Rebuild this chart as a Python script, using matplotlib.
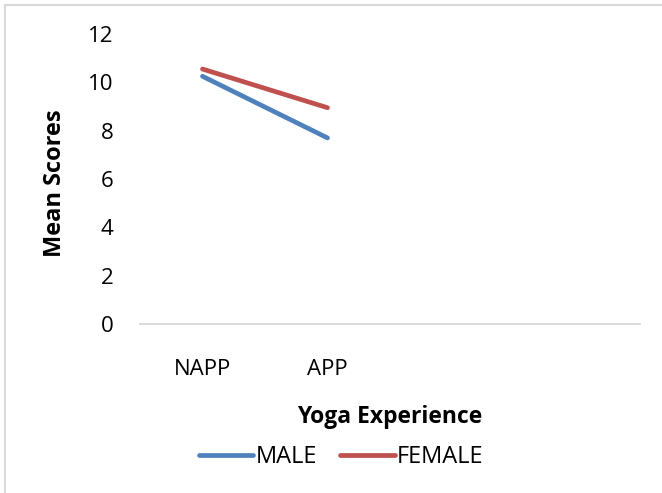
import matplotlib
matplotlib.use("Agg")
import matplotlib.pyplot as plt
from matplotlib.patches import Rectangle

plt.rcParams['font.family'] = ['Open Sans', 'DejaVu Sans']

categories = ["NAPP", "APP", "", ""]
male = [10.25, 7.7]
female = [10.55, 8.95]
yticks = [0, 2, 4, 6, 8, 10, 12]

W, H = 662, 493
fig = plt.figure(figsize=(W / 100, H / 100), dpi=100)
ax = fig.add_axes([140 / W, 1 - 324 / H, 500 / W, 290 / H])

# outer chart frame (runs off the right and bottom edges)
fig.patches.append(Rectangle((5 / W, -0.1), 1.2, 1 - 5 / H + 0.1,
                             transform=fig.transFigure, fill=False,
                             edgecolor="#d9d9d9", linewidth=1.5))

x = list(range(len(categories)))
ax.plot(x[:len(male)], male, color="#4F81BD", linewidth=3.4,
        solid_capstyle="round", label="MALE")
ax.plot(x[:len(female)], female, color="#C0504D", linewidth=3.4,
        solid_capstyle="round", label="FEMALE")

ax.set_xlim(-0.5, len(categories) - 0.5)
ax.set_ylim(0, 12)
ax.set_yticks(yticks)
ax.set_xticks(x)
ax.set_xticklabels(categories)
ax.tick_params(axis="both", length=0, labelsize=16, colors="black")
ax.tick_params(axis="y", pad=19)
ax.tick_params(axis="x", pad=25)

for s in ["top", "right", "left"]:
    ax.spines[s].set_visible(False)
ax.spines["bottom"].set_color("#d9d9d9")
ax.spines["bottom"].set_linewidth(1.3)

fig.text(55 / W, 1 - 183 / H, "Mean Scores", rotation=90, ha="center",
         va="center", fontsize=17, fontweight="bold")
fig.text(390 / W, 1 - 417 / H, "Yoga Experience", ha="center",
         va="center", fontsize=16.5, fontweight="bold")

fig.legend(loc="center", bbox_to_anchor=(341 / W, 1 - 457 / H), ncol=2,
           frameon=False, fontsize=17, handlelength=2.3, handletextpad=0.1,
           columnspacing=1.0, borderpad=0)

fig.savefig("out.png", dpi=100)
